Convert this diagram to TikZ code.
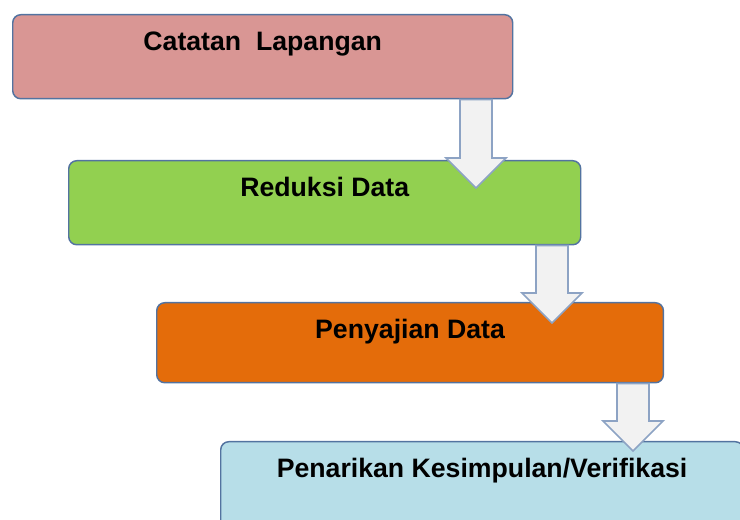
\documentclass[tikz,border=0pt]{standalone}
\usepackage{fontspec}
\setmainfont{Liberation Sans}
\usetikzlibrary{calc}

\definecolor{boxline}{HTML}{5373A0}
\definecolor{arrowline}{HTML}{8DA3C4}
\definecolor{arrowfill}{HTML}{F2F2F2}
\definecolor{catatanfill}{HTML}{D99694}
\definecolor{reduksifill}{HTML}{92D050}
\definecolor{penyajianfill}{HTML}{E46C0A}
\definecolor{penarikanfill}{HTML}{B7DEE8}

\tikzset{
  stage/.style={draw=boxline, line width=1.1pt, rounded corners=6pt, anchor=north west,
    inner xsep=0pt, inner ysep=0pt, text height=27pt,
    font=\fontsize{20}{24}\selectfont\bfseries},
  flowarrow/.style={draw=arrowline, fill=arrowfill, line width=1.3pt, line join=miter}
}

% block arrow: from node, to node, x of centre, depth of tip into the lower box
\newcommand{\stagearrow}[4]{%
  \coordinate (ax) at (#3,0);
  \draw [flowarrow] ($(#1.south -| ax)+(-16,0)$) -- ($(#2.north -| ax)+(-16,#4-30)$) -- ++(-14,0)
    -- ($(#2.north -| ax)+(0,#4)$) -- ($(#2.north -| ax)+(30,#4-30)$) -- ++(-14,0)
    -- ($(#1.south -| ax)+(16,0)$) -- cycle ;
}

\begin{document}
\begin{tikzpicture}[x=0.75pt,y=0.75pt,yscale=-1,xscale=1]
\useasboundingbox (0,0) rectangle (740,520);

%Shape: Rounded Rect [id:catatan]
\node [stage, fill=catatanfill, minimum width=375pt, text depth=36pt] (catatan) at (12,14) {Catatan\ \ Lapangan};
%Shape: Rounded Rect [id:reduksi]
\node [stage, fill=reduksifill, minimum width=384pt, text depth=36pt] (reduksi) at (68,160) {Reduksi Data};
%Shape: Rounded Rect [id:penyajian]
\node [stage, fill=penyajianfill, minimum width=380pt, text depth=33pt] (penyajian) at (156,302) {Penyajian Data};
%Shape: Rounded Rect [id:penarikan]
\node [stage, fill=penarikanfill, minimum width=392pt, text depth=38pt] (penarikan) at (220,441) {Penarikan Kesimpulan/Verifikasi};

%Shape: Down Arrow [id:arrow1]
\stagearrow{catatan}{reduksi}{476}{28}
%Shape: Down Arrow [id:arrow2]
\stagearrow{reduksi}{penyajian}{552}{21}
%Shape: Down Arrow [id:arrow3]
\stagearrow{penyajian}{penarikan}{633}{10}

\end{tikzpicture}
\end{document}
